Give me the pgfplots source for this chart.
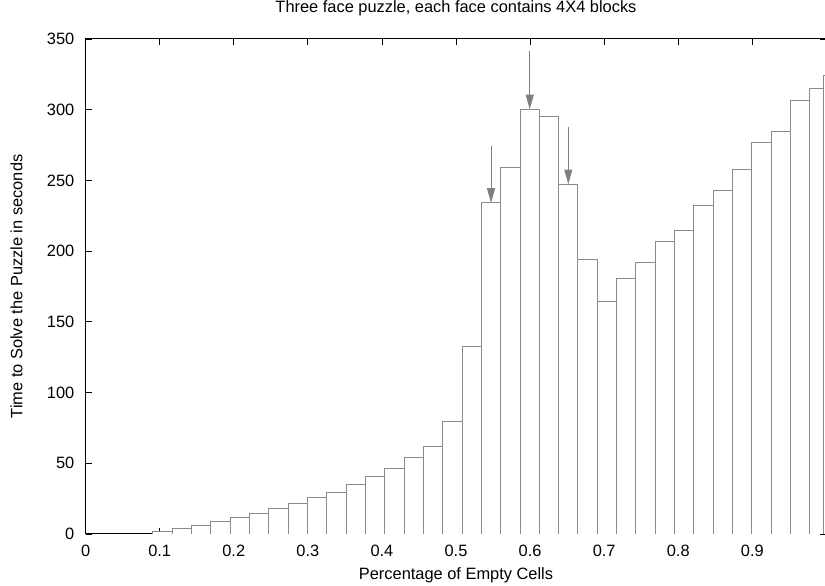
\documentclass[border=0pt,12pt]{standalone}
\usepackage{fontspec}
\setmainfont{Liberation Sans}
\usepackage{pgfplots}
\pgfplotsset{compat=1.18}
\usetikzlibrary{calc,arrows.meta}

\definecolor{bargray}{HTML}{8A8A8A}
\definecolor{arrowgray}{HTML}{7F7F7F}

\begin{document}
\begin{tikzpicture}
\begin{axis}[
    scale only axis,
    width=555.6pt, height=371.25pt,
    font=\fontsize{12.3}{14.5}\selectfont,
    xmin=0, xmax=1, ymin=0, ymax=350,
    xtick={0,0.1,...,0.9},
    ytick={0,50,...,350},
    tick align=inside,
    major tick length=4.5pt,
    axis line style={line width=0.75pt},
    every tick/.style={black, line width=0.6pt},
    /pgf/number format/assume math mode=true,
    xticklabel style={anchor=base, inner sep=0pt, yshift=-17pt},
    yticklabel style={anchor=east, inner sep=0pt, xshift=-8.25pt},
    title={Three face puzzle, each face contains 4X4 blocks},
    title style={at={(axis description cs:0.5,1.0369)}, anchor=base, inner sep=0pt},
    xlabel={Percentage of Empty Cells},
    xlabel style={at={(axis description cs:0.5,-0.0924)}, anchor=base, inner sep=0pt},
    ylabel={Time to Solve the Puzzle in seconds},
    ylabel style={at={(axis description cs:-0.0931,0.5)}, anchor=center, inner sep=0pt},
]
\addplot[ybar interval, fill=white, draw=bargray, line width=0.7pt] coordinates {
    (0.0906,2.0) (0.1167,4.0) (0.1428,6.1) (0.1689,9.0) (0.1950,12.0)
    (0.2211,14.8) (0.2471,17.7) (0.2732,21.5) (0.2993,25.5) (0.3254,29.7)
    (0.3515,35.1) (0.3776,41.0) (0.4037,46.4) (0.4298,54.2) (0.4559,62.2)
    (0.4820,79.7) (0.5081,132.7) (0.5342,234.1) (0.5603,259.3) (0.5864,300.3)
    (0.6125,295.2) (0.6386,247.3) (0.6646,194.3) (0.6907,164.6) (0.7168,180.8)
    (0.7429,192.1) (0.7690,207.0) (0.7951,214.5) (0.8212,232.4) (0.8473,242.6)
    (0.8734,257.4) (0.8995,276.7) (0.9256,284.5) (0.9517,306.2) (0.9778,315.2)
    (0.9954,324.1) (1.0200,0)
};
\draw[arrowgray, line width=0.75pt, -{Triangle[length=11pt,width=6pt]}]
    (axis cs:0.5473,274.6) -- (axis cs:0.5473,234.1);
\draw[arrowgray, line width=0.75pt, -{Triangle[length=11pt,width=6pt]}]
    (axis cs:0.5995,341.6) -- (axis cs:0.5995,300.3);
\draw[arrowgray, line width=0.75pt, -{Triangle[length=11pt,width=6pt]}]
    (axis cs:0.6516,288.0) -- (axis cs:0.6516,247.3);
\coordinate (bl) at (rel axis cs:0,0);
\coordinate (tr) at (rel axis cs:1,1);
\end{axis}
\pgfresetboundingbox
\useasboundingbox ($(bl)+(-64.2pt,-39pt)$) rectangle ($(tr)+(-1.05pt,29.25pt)$);
\end{tikzpicture}
\end{document}
